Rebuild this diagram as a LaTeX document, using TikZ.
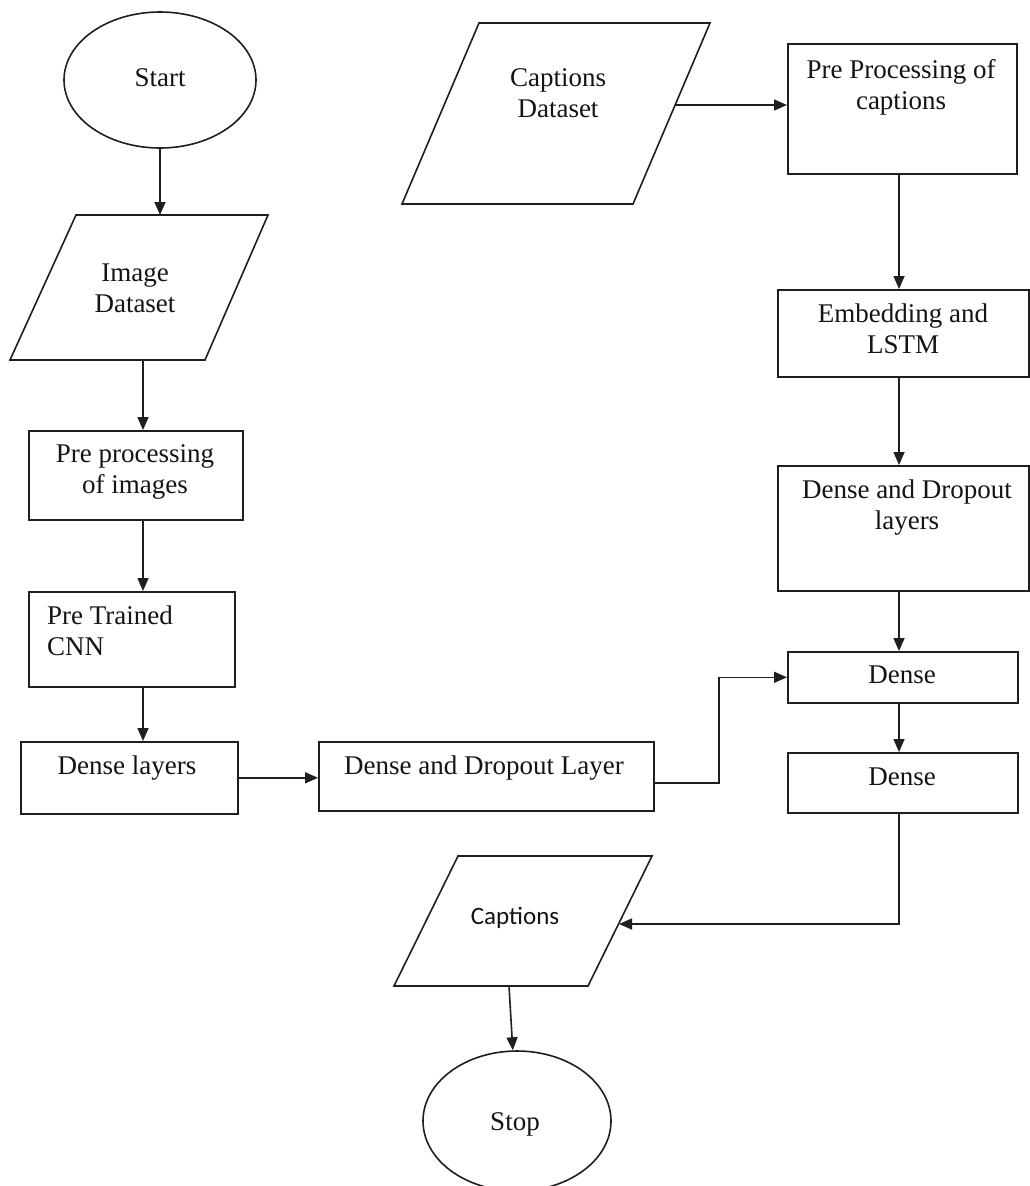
\documentclass[tikz,border=0pt]{standalone}
\usepackage{fontspec}
\setmainfont{Liberation Serif}
\newfontfamily\capsansfont{Carlito}
\usetikzlibrary{arrows.meta,shapes.geometric}

\tikzset{
  flowline/.style={line width=1.6pt, draw=black!88},
  arr/.style={flowline, -{Triangle[length=13pt,width=11pt]}},
  box/.style={flowline, draw, rectangle, inner sep=0pt, anchor=north west},
  oval/.style={flowline, draw, ellipse, inner sep=0pt},
  lbl/.style={font=\fontsize{27}{31}\selectfont, align=center, inner sep=0pt, text=black!92},
}

\begin{document}
\begin{tikzpicture}[x=1pt,y=-1pt]
\useasboundingbox[fill=white] (0,0) rectangle (1029,1186);

% column guides for the vertical connectors
\coordinate (colL) at (143,0);
\coordinate (colR) at (899,0);
\coordinate (jog)  at (719,0);

% ---------- left column ----------
\node[oval, minimum width=192pt, minimum height=136pt] (start) at (160,80) {};
\node[lbl] (t-start) at (160,78) {Start};

\coordinate (ids1) at (76,215);
\coordinate (ids2) at (268,215);
\coordinate (ids3) at (205,360);
\coordinate (ids4) at (10,360);
\draw[flowline] (ids1) -- (ids2) -- (ids3) -- (ids4) -- cycle;
\coordinate (ids-in)  at (160,215);
\coordinate (ids-out) at (143,360);
\node[lbl] (t-ids) at (135,288) {Image\\Dataset};

\node[box, minimum width=214pt, minimum height=89pt] (ppimg) at (28,430) {};
\node[lbl] (t-ppimg) at (135,472) {Pre processing\\of images};

\node[box, minimum width=206pt, minimum height=95pt] (cnn) at (28,591) {};
\node[lbl, align=left, anchor=west] (t-cnn) at (47,631) {Pre Trained\\CNN};

\node[box, minimum width=217pt, minimum height=72pt] (dl) at (20,741) {};
\node[lbl] (t-dl) at (127,768) {Dense layers};

\node[box, minimum width=335pt, minimum height=69pt] (ddl) at (318,741) {};
\node[lbl] (t-ddl) at (484,768) {Dense and Dropout Layer};
\coordinate (ddl-out) at (653,783);

% ---------- right column ----------
\coordinate (cds1) at (479,23);
\coordinate (cds2) at (710,23);
\coordinate (cds3) at (633,204);
\coordinate (cds4) at (402,204);
\draw[flowline] (cds1) -- (cds2) -- (cds3) -- (cds4) -- cycle;
\coordinate (cds-out) at (675,105);
\node[lbl] (t-cds) at (558,93) {Captions\\Dataset};

\node[box, minimum width=229pt, minimum height=130pt] (ppcap) at (787,43) {};
\node[lbl] (t-ppcap) at (901,87) {Pre Processing of\\captions};

\node[box, minimum width=251pt, minimum height=87pt] (emb) at (777,289) {};
\node[lbl] (t-emb) at (903,329) {Embedding and\\LSTM};

\node[box, minimum width=251pt, minimum height=125pt] (ddr) at (777,465) {};
\node[lbl] (t-ddr) at (907,508) {Dense and Dropout\\layers};

\node[box, minimum width=230pt, minimum height=51pt] (d1) at (787,651) {};
\node[lbl] (t-d1) at (902,675) {Dense};

\node[box, minimum width=230pt, minimum height=60pt] (d2) at (787,752) {};
\node[lbl] (t-d2) at (902,777) {Dense};

% ---------- output ----------
\coordinate (cap1) at (458,856);
\coordinate (cap2) at (652,856);
\coordinate (cap3) at (588,986);
\coordinate (cap4) at (394,986);
\draw[flowline] (cap1) -- (cap2) -- (cap3) -- (cap4) -- cycle;
\coordinate (cap-in)  at (619,924);
\coordinate (cap-out) at (509,986);
\node[lbl, font=\capsansfont\fontsize{25}{30}\selectfont] (t-cap) at (515,918) {Captions};

\node[oval, minimum width=188pt, minimum height=140pt] (stop) at (517,1121) {};
\node[lbl] (t-stop) at (515,1124) {Stop};

% ---------- connectors ----------
\draw[arr] (start) -- (ids-in);
\draw[arr] (ids-out) -- (ppimg.north -| colL);
\draw[arr] (ppimg.south -| colL) -- (cnn.north -| colL);
\draw[arr] (cnn.south -| colL) -- (dl.north -| colL);
\draw[arr] (dl.east) -- (dl.east -| ddl.west);
\draw[arr] (ddl-out) -| (jog |- d1.west) -- (d1.west);

\draw[arr] (cds-out) -- (cds-out -| ppcap.west);
\draw[arr] (ppcap.south -| colR) -- (emb.north -| colR);
\draw[arr] (emb.south -| colR) -- (ddr.north -| colR);
\draw[arr] (ddr.south -| colR) -- (d1.north -| colR);
\draw[arr] (d1.south -| colR) -- (d2.north -| colR);
\draw[arr] (d2.south -| colR) |- (cap-in);
\draw[arr] (cap-out) -- (stop);
\end{tikzpicture}
\end{document}
